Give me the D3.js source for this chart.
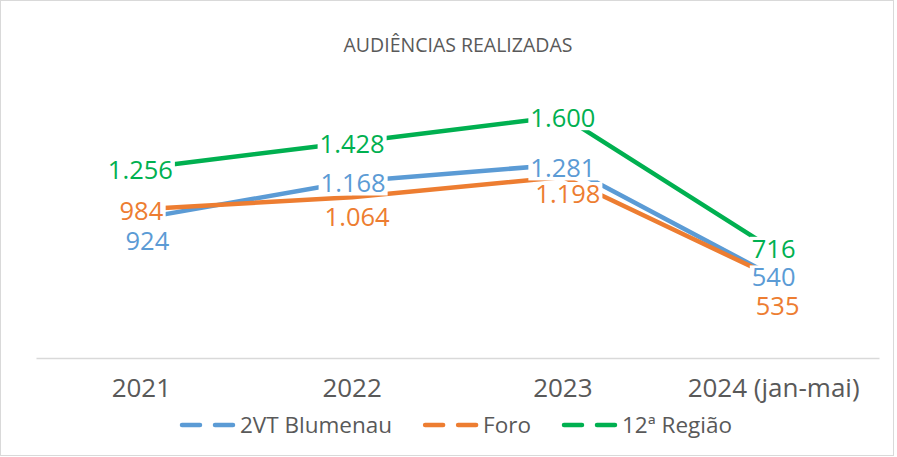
<!DOCTYPE html>
<html>
<head>
<meta charset="utf-8">
<script src="https://cdn.jsdelivr.net/npm/d3@7"></script>
<style>
  body { margin: 0; background: #fff; }
  svg text { font-family: "Open Sans", "Noto Sans", sans-serif; }
</style>
</head>
<body>
<svg id="chart" width="897" height="457"></svg>
<script>
const categories = ["2021", "2022", "2023", "2024 (jan-mai)"];
const seriesNames = ["2VT Blumenau", "Foro", "12ª Região"];
const blumenau = [924, 1168, 1281, 540];
const foro = [984, 1064, 1198, 535];
const regiao = [1256, 1428, 1600, 716];
const labelText = ["924", "1.168", "1.281", "540", "984", "1.064", "1.198", "535", "1.256", "1.428", "1.600", "716"];

const colors = ["#5B9BD5", "#ED7D31", "#00B050"];

// label nudges (dx, dy) per series, per point
const nudge = [
  [[6, 23], [1, 2], [0, 4], [0, 1]],
  [[0, 2], [5, 20], [5, 17], [4, 29]],
  [[-1, 2], [0, 2], [0, 2], [0, -1]]
];

const w = 897, h = 457;
const svg = d3.select("#chart");

svg.append("rect")
  .attr("x", 0.5).attr("y", 0.5)
  .attr("width", w - 4).attr("height", h - 2)
  .attr("fill", "#fff").attr("stroke", "#d9d9d9");

const x = d3.scaleBand().domain(categories).range([36, 879]);
const y = d3.scaleLinear().domain([0, 1800]).range([358, 86]);
const cx = (c) => x(c) + x.bandwidth() / 2;

svg.append("text")
  .attr("x", 458).attr("y", 52)
  .attr("text-anchor", "middle")
  .attr("font-size", 19.5)
  .attr("fill", "#595959")
  .text("AUDIÊNCIAS REALIZADAS");

// category axis
const axis = svg.append("g")
  .attr("transform", "translate(0,358)")
  .call(d3.axisBottom(x).tickSize(0).tickPadding(21));
axis.select(".domain").attr("stroke", "#d9d9d9").attr("stroke-width", 1.5);
axis.selectAll("text")
  .attr("font-size", 26)
  .attr("fill", "#595959")
  .style("font-family", "'Open Sans', sans-serif");

const all = [blumenau, foro, regiao];
const line = d3.line()
  .x((d, i) => cx(categories[i]))
  .y((d) => y(d));

all.forEach((vals, s) => {
  svg.append("path")
    .datum(vals)
    .attr("d", line)
    .attr("fill", "none")
    .attr("stroke", colors[s])
    .attr("stroke-width", 4.5)
    .attr("stroke-linejoin", "round")
    .attr("stroke-linecap", "round");
});

// data labels with white boxes
all.forEach((vals, s) => {
  vals.forEach((v, i) => {
    const px = cx(categories[i]) + nudge[s][i][0];
    const py = y(v) + nudge[s][i][1];
    const g = svg.append("g");
    const t = g.append("text")
      .attr("x", px).attr("y", py)
      .attr("dy", "0.35em")
      .attr("text-anchor", "middle")
      .attr("font-size", 25.5)
      .attr("fill", colors[s])
      .text(labelText[s * 4 + i]);
    const bb = t.node().getBBox();
    g.insert("rect", "text")
      .attr("x", bb.x - 2).attr("y", py - 12)
      .attr("width", bb.width + 4).attr("height", 24)
      .attr("fill", "#fff");
  });
});

// legend
const legend = svg.append("g").attr("transform", "translate(0,425)");
let lx = 180;
seriesNames.forEach((name, s) => {
  const item = legend.append("g").attr("transform", `translate(${lx},0)`);
  item.append("line")
    .attr("x1", 2).attr("x2", 55)
    .attr("stroke", colors[s])
    .attr("stroke-width", 4.5)
    .attr("stroke-linecap", "round")
    .attr("stroke-dasharray", "18 15");
  const t = item.append("text")
    .attr("x", 60).attr("dy", "0.35em")
    .attr("font-size", 22.5)
    .attr("fill", "#595959")
    .text(name);
  lx += 60 + t.node().getComputedTextLength() + 31;
});
</script>
</body>
</html>
